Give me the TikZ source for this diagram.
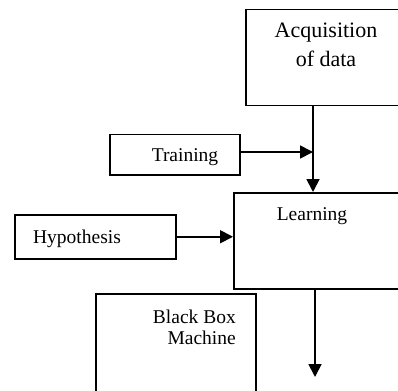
\documentclass[tikz,border=0pt]{standalone}
\usepackage{fontspec}
\setmainfont{Liberation Serif}
\usetikzlibrary{arrows.meta}
\begin{document}
\begin{tikzpicture}[x=1pt,y=-1pt,
  box/.style={draw,line width=1.5pt,rectangle,inner sep=0pt},
  lbl/.style={inner sep=0pt,align=center,anchor=base,font=\fontsize{19.5}{21}\selectfont},
  arr/.style={line width=1.8pt,-{Triangle[length=13pt,width=13pt]}}]
\useasboundingbox (0,0) rectangle (398,390);
\clip (0,0) rectangle (398,390);
\node[box,minimum width=157pt,minimum height=96pt,anchor=north west] (acq) at (245,9) {};
\node[box,minimum width=169pt,minimum height=96pt,anchor=north west] (learn) at (233,192) {};
\node[box,minimum width=130pt,minimum height=40pt,anchor=north west] (train) at (109,134) {};
\node[box,minimum width=161pt,minimum height=44pt,anchor=north west] (hyp) at (14,214) {};
\node[box,minimum width=160pt,minimum height=110pt,anchor=north west] (bb) at (95,293) {};
\node[lbl,font=\fontsize{22}{29}\selectfont] (acqt) at (326,67) {Acquisition\\of data};
\node[lbl] (learnt) at (312,220) {Learning};
\node[lbl] (traint) at (185,161) {Training};
\node[lbl] (hypt) at (77,243) {Hypothesis};
\node[lbl,align=right,anchor=base east] (bbt) at (236,344) {Black Box\\Machine};
\coordinate (vx) at (313,0);
\coordinate (join) at (313,152);
\coordinate (out) at (315,377);
\draw[arr] (acq.south -| vx) -- (learn.north -| vx);
\draw[arr] (train.east |- join) -- (join);
\draw[arr] (hyp.east) -- (learn.west |- hyp.east);
\draw[arr] (learn.south -| out) -- (out);
\end{tikzpicture}
\end{document}
